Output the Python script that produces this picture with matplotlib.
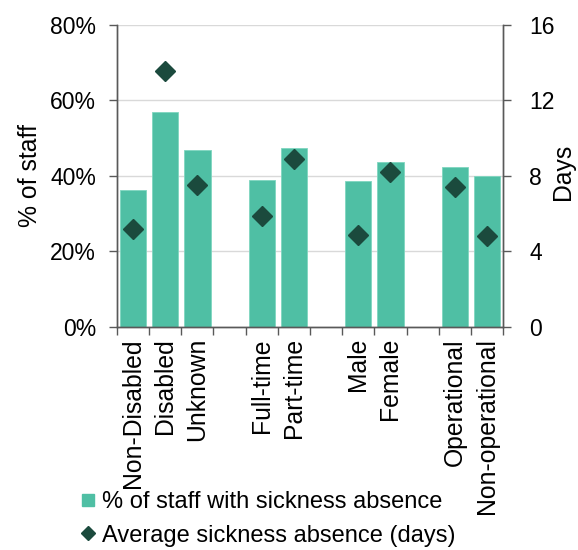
import matplotlib
matplotlib.use("Agg")
import matplotlib.pyplot as plt
from matplotlib.lines import Line2D
import numpy as np

plt.rcParams['font.family'] = ['Liberation Sans', 'DejaVu Sans']

categories = ["Non-Disabled", "Disabled", "Unknown", "",
              "Full-time", "Part-time", "",
              "Male", "Female", "",
              "Operational", "Non-operational"]
pct_staff = [36.3, 57.0, 46.8, None,
             39.0, 47.5, None,
             38.6, 43.7, None,
             42.4, 40.0]
avg_days = [5.2, 13.55, 7.5, None,
            5.85, 8.9, None,
            4.87, 8.2, None,
            7.4, 4.8]

bar_color = "#4fbfa4"
diamond_color = "#1b4a3d"
spine_color = "#595959"
fs_tick = 16.5
fs_cat = 17.8
fs_leg = 17.0

fig = plt.figure(figsize=(5.78, 5.5), dpi=100)
ax = fig.add_axes([0.2024, 0.4055, 0.8703 - 0.2024, 0.955 - 0.4055])
ax2 = ax.twinx()

x = np.arange(len(categories))
bx = [xi for xi, v in zip(x, pct_staff) if v is not None]
bv = [v for v in pct_staff if v is not None]
dx = [xi for xi, v in zip(x, avg_days) if v is not None]
dv = [v for v in avg_days if v is not None]

ax.bar(bx, bv, width=0.82, color=bar_color, edgecolor="#7fd6c0",
       linewidth=0.6, zorder=2)
ax2.plot(dx, dv, linestyle="none", marker="D", markersize=10.5,
         color=diamond_color, markeredgecolor=diamond_color, zorder=3)

ax.set_xlim(-0.5, len(categories) - 0.5)
ax.set_ylim(0, 80)
ax2.set_ylim(0, 16)
ax.set_yticks([0, 20, 40, 60, 80])
ax.set_yticklabels([f"{v}%" for v in [0, 20, 40, 60, 80]])
ax2.set_yticks([0, 4, 8, 12, 16])

ax.yaxis.grid(True, color="#d9d9d9", linewidth=1.0, zorder=0)
ax.set_axisbelow(True)

ax.set_xticks(x)
ax.set_xticklabels(categories, rotation=90, fontsize=fs_cat)
ax.set_xticks(np.arange(-0.5, len(categories)), minor=True)
ax.tick_params(axis="x", which="major", length=0, pad=8)
ax.tick_params(axis="x", which="minor", length=6, width=1.0,
               color=spine_color, direction="out")
ax.tick_params(axis="y", length=6, width=1.0, color=spine_color,
               labelsize=fs_tick, pad=9)
ax2.tick_params(axis="y", length=6, width=1.0, color=spine_color,
                labelsize=fs_tick, pad=13)

for a in (ax, ax2):
    a.spines["top"].set_visible(False)
    for s in ("left", "right", "bottom"):
        a.spines[s].set_color(spine_color)
        a.spines[s].set_linewidth(1.0)

ax.set_ylabel("% of staff", fontsize=fs_cat, labelpad=6)
fig.text(563 / 578, 1 - 172 / 550, "Days", rotation=90, fontsize=fs_cat,
         ha="center", va="center")

handles = [
    Line2D([], [], linestyle="none", marker="s", markersize=9,
           color=bar_color, label="% of staff with sickness absence"),
    Line2D([], [], linestyle="none", marker="D", markersize=7,
           color=diamond_color, label="Average sickness absence (days)"),
]
fig.legend(handles=handles, loc="lower left", bbox_to_anchor=(0.123, -0.011),
           frameon=False, fontsize=fs_leg, handlelength=0.6, handletextpad=0.3,
           labelspacing=0.5, borderaxespad=0.0)

fig.savefig("out.png", dpi=100)
